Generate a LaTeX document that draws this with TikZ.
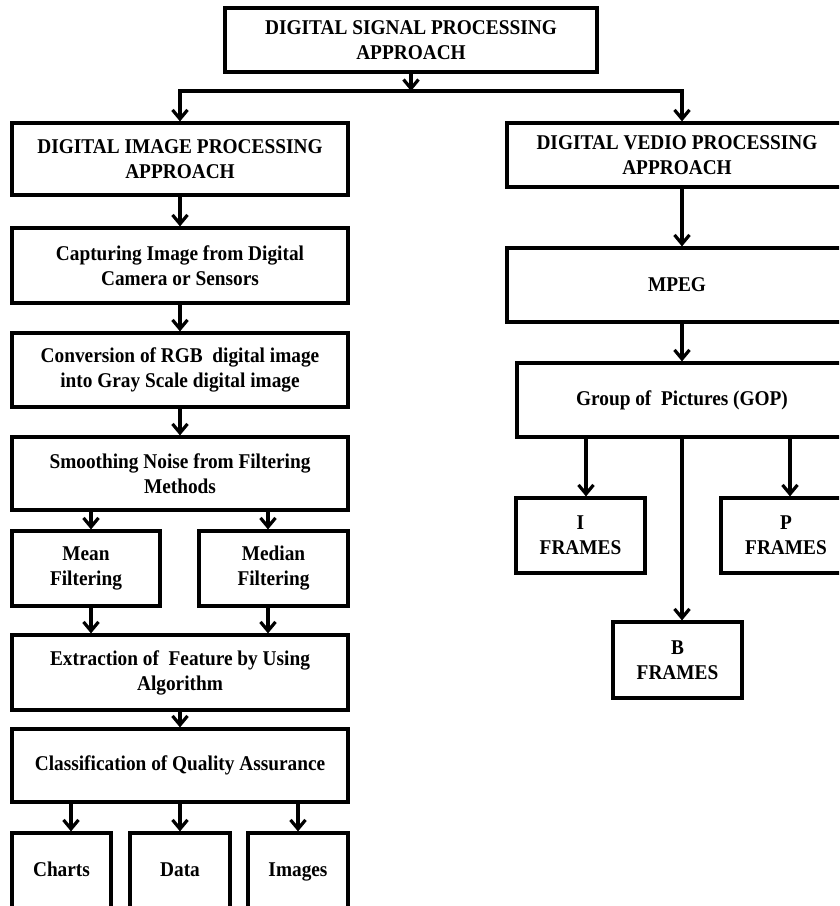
\documentclass[tikz,border=0pt]{standalone}
\usepackage{fontspec}
\setmainfont{Liberation Serif}[FakeStretch=0.92]
\usetikzlibrary{arrows.meta,calc}
\begin{document}
\begin{tikzpicture}[x=1pt,y=-1pt,
  box/.style={draw, line width=3.2pt, inner sep=0pt, align=center,
    font=\bfseries\fontsize{21}{25}\selectfont},
  arr/.style={line width=3.2pt, -{Straight Barb[length=9pt,width=15pt]}},
]
\clip (0,0) rectangle (839,906);
\fill[white] (0,0) rectangle (839,906);
% nodes
\node[box, minimum width=372pt, minimum height=64pt] (top) at (411,40) {DIGITAL SIGNAL PROCESSING\\APPROACH};
\node[box, minimum width=336pt, minimum height=72pt] (dip) at (180,159) {DIGITAL IMAGE PROCESSING\\APPROACH};
\node[box, minimum width=340pt, minimum height=64pt] (dvp) at (677,155) {DIGITAL VEDIO PROCESSING\\APPROACH};
\node[box, minimum width=336pt, minimum height=75pt] (cap) at (180,265.5) {Capturing Image from Digital\\Camera or Sensors};
\node[box, minimum width=336pt, minimum height=74pt] (conv) at (180,370) {Conversion of RGB\ \ digital image\\into Gray Scale digital image};
\node[box, minimum width=336pt, minimum height=73pt] (smooth) at (180,473.5) {Smoothing Noise from Filtering\\Methods};
\node[box, minimum width=148pt, minimum height=75pt] (mean) at (86,568.5) {Mean\\Filtering};
\node[box, minimum width=149pt, minimum height=75pt] (median) at (273.5,568.5) {Median\\Filtering};
\node[box, minimum width=336pt, minimum height=75pt] (extr) at (180,672.5) {Extraction of\ \ Feature by Using\\Algorithm};
\node[box, minimum width=336pt, minimum height=73pt] (cls) at (180,765.5) {Classification of Quality Assurance};
\node[box, minimum width=99pt, minimum height=76pt] (charts) at (61.5,871) {Charts\strut};
\node[box, minimum width=100pt, minimum height=76pt] (data) at (180,871) {Data\strut};
\node[box, minimum width=100pt, minimum height=76pt] (images) at (298,871) {Images\strut};
\node[box, minimum width=340pt, minimum height=74pt] (mpeg) at (677,285) {MPEG};
\node[box, minimum width=330pt, minimum height=74pt] (gop) at (682,400) {Group of\ \ Pictures (GOP)};
\node[box, minimum width=129pt, minimum height=75pt] (ifr) at (580.5,535.5) {I\\FRAMES};
\node[box, minimum width=130pt, minimum height=75pt] (pfr) at (786,535.5) {P\\FRAMES};
\node[box, minimum width=129pt, minimum height=76pt] (bfr) at (677.5,660) {B\\FRAMES};
% column coordinates
\coordinate (split) at (411,91);
\coordinate (xR) at (682,0);
\coordinate (xMean) at (91,0);
\coordinate (xMed) at (268,0);
\coordinate (xCh) at (71,0);
\coordinate (xDa) at (180,0);
\coordinate (xIm) at (298,0);
\coordinate (xI) at (586,0);
\coordinate (xP) at (790,0);
% connectors
\draw[arr] (top.south) -- (split);
\draw[arr] (split) -| (dip.north);
\draw[arr] (split) -| (dvp.north -| xR);
\draw[arr] (dip) -- (cap);
\draw[arr] (cap) -- (conv);
\draw[arr] (conv) -- (smooth);
\draw[arr] (smooth.south -| xMean) -- (mean.north -| xMean);
\draw[arr] (smooth.south -| xMed) -- (median.north -| xMed);
\draw[arr] (mean.south -| xMean) -- (extr.north -| xMean);
\draw[arr] (median.south -| xMed) -- (extr.north -| xMed);
\draw[arr] (extr) -- (cls);
\draw[arr] (cls.south -| xCh) -- (charts.north -| xCh);
\draw[arr] (cls.south -| xDa) -- (data.north -| xDa);
\draw[arr] (cls.south -| xIm) -- (images.north -| xIm);
\draw[arr] (dvp.south -| xR) -- (mpeg.north -| xR);
\draw[arr] (mpeg.south -| xR) -- (gop.north -| xR);
\draw[arr] (gop.south -| xI) -- (ifr.north -| xI);
\draw[arr] (gop.south -| xR) -- (bfr.north -| xR);
\draw[arr] (gop.south -| xP) -- (pfr.north -| xP);
\end{tikzpicture}
\end{document}
